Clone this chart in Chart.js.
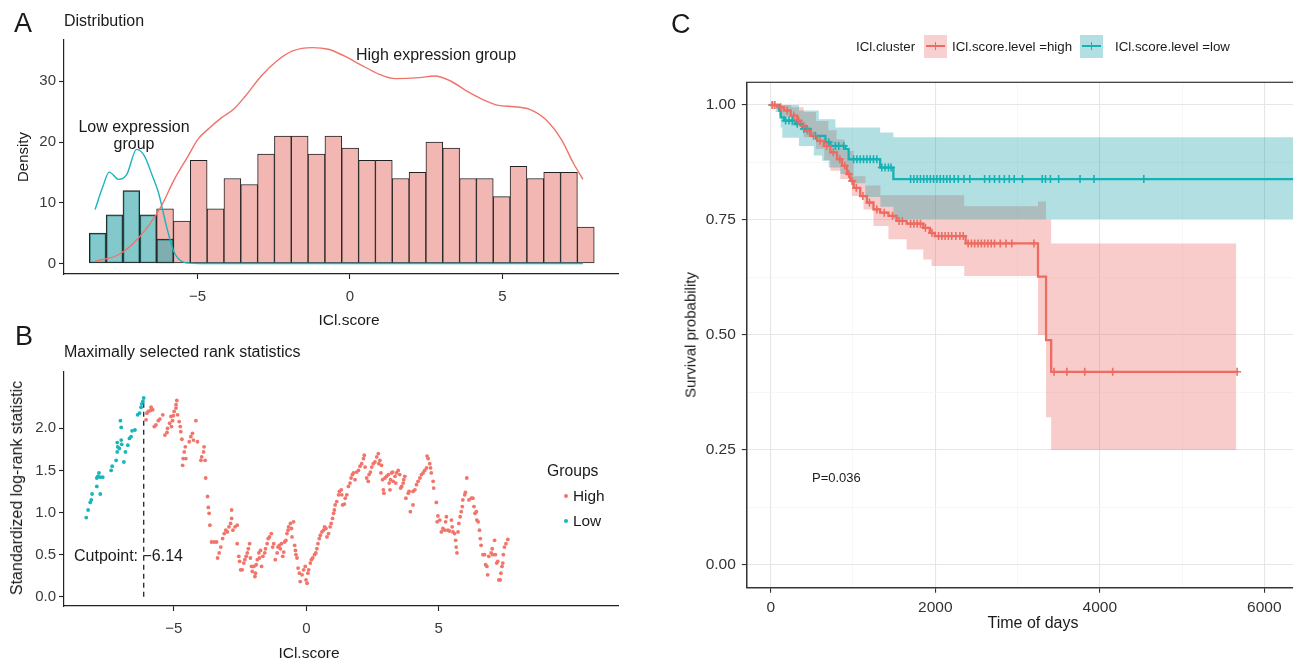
<!DOCTYPE html>
<html><head><meta charset="utf-8">
<script src="https://cdn.jsdelivr.net/npm/chart.js@4.4.1/dist/chart.umd.min.js"></script>
<style>
html,body{margin:0;padding:0;background:#fff;overflow:hidden;}
#root{position:relative;width:1293px;height:662px;overflow:hidden;font-family:"Liberation Sans",Arial,Helvetica,sans-serif;color:#1a1a1a;background:#fff;}
canvas{position:absolute;}
.t{position:absolute;white-space:nowrap;line-height:1;}
</style></head><body><div id="root">
<canvas id="cA" width="640" height="335" style="left:0;top:0"></canvas>
<canvas id="cB" width="640" height="327" style="left:0;top:335px"></canvas>
<canvas id="cC" width="640" height="662" style="left:660px;top:0"></canvas>
</div>
<script>
// ---------- Panel A: histogram + density ----------
const binCenters = [-8.274,-7.722,-7.170,-6.618,-6.066,-5.514,-4.962,-4.410,-3.858,-3.306,-2.754,-2.202,-1.650,-1.098,-0.546,0.006,0.558,1.110,1.662,2.214,2.766,3.318,3.870,4.422,4.974,5.526,6.078,6.630,7.182,7.734];
const lowCounts = [5,8,12,8,4];                       // bins 1-5
const highCounts = [9,7,17,9,14,13,18,21,21,18,21,19,17,17,14,15,20,19,14,14,11,16,14,15,15,6]; // bins 5-30
const densHighX = [-8.36,-7.58,-6.93,-6.22,-5.76,-5.31,-4.99,-4.60,-4.21,-3.82,-3.43,-2.91,-2.40,-1.88,-1.23,-0.71,-0.19,0.32,0.97,1.49,2.27,2.78,3.30,3.82,4.34,4.86,5.38,5.89,6.41,6.93,7.32,7.64];
const densHighY = [0.38,1.48,4.23,9.18,13.85,17.69,20.44,22.36,24.01,25.38,27.58,30.88,33.35,35.0,35.55,35.27,34.18,32.8,31.15,30.44,30.6,30.88,30.05,28.41,27.03,26.04,25.82,25.38,23.74,20.44,16.59,13.85];
const densLowX = [-8.36,-8.10,-7.90,-7.58,-7.32,-7.00,-6.74,-6.48,-6.28,-6.02,-5.76,-5.38,-4.73,7.64];
const densLowY = [8.9,12.75,15.05,13.85,14.67,18.79,17.69,14.4,11.65,6.15,1.76,0.11,0,0];
const aXTicks = [-5,0,5];
const aYTicks = [0,10,20,30];

// ---------- Panel B: maximally selected rank statistics ----------
const bLowX = [-8.31,-8.24,-8.16,-8.12,-8.09,-7.91,-7.91,-7.87,-7.83,-7.79,-7.78,-7.69,-7.37,-7.33,-7.18,-7.14,-7.12,-7.14,-7.06,-6.99,-6.97,-6.89,-6.83,-6.74,-6.68,-6.62,-6.58,-6.47,-6.99,-7.02,-6.37,-6.30,-6.24,-6.21,-6.17,-6.14];
const bLowY = [0.94,1.03,1.12,1.15,1.22,1.31,1.41,1.43,1.47,1.42,1.22,1.42,1.50,1.55,1.62,1.72,1.78,1.83,1.76,1.86,1.81,1.60,1.72,1.80,1.88,1.90,1.97,1.98,2.01,2.09,2.16,2.18,2.25,2.29,2.32,2.36];
const bHighX = [-6.05,-6.02,-5.97,-5.89,-5.86,-5.80,-5.74,-5.68,-5.59,-5.53,-5.42,-5.34,-5.26,-5.24,-5.16,-5.11,-5.09,-5.05,-5.02,-4.99,-4.92,-4.89,-4.92,-4.86,-4.80,-4.76,-4.74,-4.70,-4.67,-4.65,-4.61,-4.57,-4.55,-4.42,-4.36,-4.30,-4.26,-4.17,-4.11,-3.98,-3.95,-3.88,-3.86,-3.82,-3.80,-3.73,-3.70,-3.67,-3.64,-3.58,-3.48,-3.39,-3.35,-3.29,-3.23,-3.16,-3.10,-3.04,
 -2.98,-2.92,-2.86,-2.82,-2.82,-2.77,-2.69,-2.61,-2.61,-2.55,-2.52,-2.48,-2.42,-2.36,-2.32,-2.27,-2.23,-2.19,-2.14,-2.11,-2.07,-2.04,-1.98,-1.94,-1.92,-1.89,-1.85,-1.79,-1.77,-1.73,-1.69,-1.64,-1.57,-1.54,-1.48,-1.44,-1.39,-1.32,-1.27,-1.23,-1.17,-1.10,-1.07,-1.02,-0.98,-0.94,-0.89,-0.85,-0.82,-0.77,-0.73,-0.69,-0.67,-0.60,-0.56,-0.54,-0.48,-0.44,-0.41,-0.39,-0.35,-0.31,-0.26,-0.23,-0.16,-0.10,-0.04,-0.01,0.03,0.06,0.09,0.15,0.19,0.24,0.31,0.36,0.40,0.44,0.49,0.53,0.59,0.65,0.69,0.74,0.78,0.84,0.90,0.94,0.99,1.03,1.06,1.09,1.15,1.22,1.25,1.32,1.34,1.37,1.44,1.47,1.53,1.59,1.65,1.69,1.74,1.78,1.84,1.90,1.97,2.03,2.09,2.16,2.19,2.22,2.28,2.34,2.37,2.42,2.47,2.53,2.59,2.66,2.72,2.74,
 2.78,2.84,2.82,2.88,2.91,2.93,2.97,3.03,3.10,3.13,3.16,3.18,3.22,3.26,3.28,3.35,3.38,3.41,3.47,3.53,3.56,3.60,3.66,3.68,3.72,3.76,3.85,3.88,3.93,4.03,4.03,4.10,4.16,4.22,4.29,4.35,4.41,4.47,4.54,4.56,4.60,4.66,4.69,4.72,4.79,4.81,4.91,4.97,4.94,5.04,5.10,5.16,5.23,5.26,5.29,5.35,5.41,5.48,5.51,5.54,5.60,5.64,5.66,5.69,5.73,5.76,5.81,5.85,5.89,5.91,5.98,6.01,6.06,6.14,6.23,6.29,6.33,6.37,6.42,6.44,6.49,6.54,6.57,6.60,6.67,6.73,6.77,6.82,6.85,6.89,6.98,7.02,7.04,7.11,7.14,7.19,7.23,7.27,7.32,7.35,7.39,7.42,7.44,7.48,7.54,7.61];
const bHighY = [2.10,2.18,2.20,2.21,2.25,2.22,2.02,2.04,2.09,2.11,2.16,1.92,1.95,2.00,2.06,2.14,2.02,2.09,2.15,2.20,2.28,2.33,2.24,2.16,2.08,2.02,1.96,1.87,1.56,1.64,1.72,1.78,1.64,1.84,1.90,1.94,1.86,2.09,1.84,1.62,1.66,1.72,1.78,1.62,1.41,1.19,1.06,0.99,0.85,0.65,0.65,0.65,0.46,0.52,0.59,0.69,0.75,0.79,
 0.77,0.83,0.87,0.93,1.03,0.79,0.83,0.85,0.63,0.48,0.42,0.32,0.32,0.40,0.44,0.48,0.52,0.57,0.63,0.46,0.36,0.30,0.36,0.24,0.28,0.38,0.44,0.52,0.46,0.55,0.36,0.48,0.52,0.57,0.63,0.69,0.71,0.75,0.59,0.63,0.44,0.52,0.59,0.61,0.57,0.63,0.48,0.53,0.65,0.67,0.75,0.79,0.83,0.87,0.81,0.71,0.89,0.61,0.55,0.50,0.46,0.34,0.28,0.18,0.26,0.32,0.36,0.20,0.16,0.28,0.32,0.40,0.44,0.46,0.50,0.52,0.57,0.63,0.69,0.73,0.77,0.79,0.83,0.81,0.71,0.75,0.83,0.87,0.93,0.99,1.03,1.09,1.13,1.21,1.25,1.27,1.21,1.09,1.10,1.17,1.21,1.31,1.35,1.41,1.45,1.47,1.39,1.48,1.50,1.55,1.58,1.64,1.68,1.54,1.41,1.37,1.45,1.48,1.54,1.58,1.60,1.66,1.70,1.58,
 1.62,1.56,1.47,1.39,1.27,1.23,1.41,1.43,1.45,1.35,1.27,1.39,1.47,1.48,1.37,1.43,1.35,1.47,1.50,1.45,1.29,1.31,1.35,1.39,1.43,1.17,1.23,1.25,1.01,1.09,1.25,1.27,1.33,1.37,1.41,1.45,1.47,1.50,1.53,1.67,1.64,1.58,1.53,1.47,1.37,1.29,1.12,0.96,0.89,0.91,0.77,0.81,0.79,0.89,0.95,0.79,0.78,0.91,0.83,0.77,0.75,0.67,0.59,0.52,0.77,0.87,0.95,1.01,1.07,1.15,1.21,1.24,1.41,1.15,1.17,1.17,1.07,0.99,1.01,0.91,0.89,0.79,0.69,0.61,0.50,0.50,0.38,0.36,0.26,0.48,0.52,0.57,0.50,0.67,0.50,0.40,0.42,0.20,0.20,0.28,0.36,0.40,0.50,0.59,0.63,0.68];
const cutpoint = -6.14;
const cutpointTop = 2.36;
const bXTicks = [-5,0,5];
const bYTicks = [0,0.5,1,1.5,2];

// ---------- Panel C: Kaplan-Meier ----------
const hiTime = [0,81,161,242,322,363,423,484,564,645,725,806,866,927,967,1008,1088,1169,1249,1330,1431,1531,1652,1854,1934,1995,2370,3249,3347,3409,5670];
const hiSurv = [1.0,0.995,0.988,0.977,0.966,0.955,0.944,0.933,0.922,0.911,0.897,0.882,0.868,0.850,0.835,0.820,0.802,0.788,0.773,0.766,0.759,0.748,0.742,0.733,0.722,0.715,0.699,0.627,0.489,0.420,0.420];
const loTime = [0,101,121,161,302,383,484,665,725,907,947,1330,1491,6366];
const loSurv = [1.0,0.988,0.973,0.966,0.959,0.948,0.933,0.919,0.911,0.904,0.882,0.864,0.839,0.839];
const hiCensT = [20,50,120,200,280,340,400,450,520,600,680,760,840,900,950,990,1040,1120,1200,1290,1380,1480,1560,1600,1700,1740,1780,1820,1880,1960,2040,2080,2120,2160,2200,2250,2300,2340,2400,2440,2480,2520,2560,2600,2640,2680,2720,2790,2860,2930,3200,3444,3600,3817,4157,5670];
const hiCensS = [1.0,1.0,0.995,0.988,0.977,0.966,0.955,0.944,0.933,0.922,0.911,0.897,0.882,0.868,0.850,0.835,0.820,0.802,0.788,0.773,0.766,0.759,0.748,0.748,0.742,0.742,0.742,0.742,0.733,0.722,0.715,0.715,0.715,0.715,0.715,0.715,0.715,0.715,0.699,0.699,0.699,0.699,0.699,0.699,0.699,0.699,0.699,0.699,0.699,0.699,0.699,0.420,0.420,0.420,0.420,0.420];
const loCensT = [20,181,222,262,322,403,443,544,705,786,826,887,1008,1048,1088,1128,1169,1209,1249,1290,1350,1390,1431,1463,1700,1740,1780,1820,1860,1900,1940,1980,2020,2060,2100,2140,2180,2230,2280,2350,2420,2600,2660,2720,2780,2840,2900,2960,3060,3300,3340,3400,3500,3760,3930,4535];
const loCensS = [1.0,0.966,0.966,0.966,0.959,0.948,0.948,0.933,0.919,0.911,0.911,0.911,0.882,0.882,0.882,0.882,0.882,0.882,0.882,0.882,0.864,0.864,0.864,0.864,0.839,0.839,0.839,0.839,0.839,0.839,0.839,0.839,0.839,0.839,0.839,0.839,0.839,0.839,0.839,0.839,0.839,0.839,0.839,0.839,0.839,0.839,0.839,0.839,0.839,0.839,0.839,0.839,0.839,0.839,0.839,0.839];
const hiUpT = [0,250,400,550,700,800,900,1008,1150,1333,2352,3249,3347,3409,5660];
const hiUp  = [1.0,0.995,0.985,0.965,0.945,0.925,0.90,0.845,0.825,0.804,0.78,0.79,0.751,0.699,0.699];
const hiLoT = [0,100,250,400,550,650,725,846,987,1128,1249,1431,1652,1854,1955,2352,3249,3347,3409,5660];
const hiLo  = [1.0,0.975,0.955,0.93,0.905,0.88,0.857,0.839,0.802,0.773,0.737,0.708,0.686,0.664,0.650,0.628,0.50,0.321,0.25,0.25];
const loUpT = [0,343,584,786,1330,1491,6366];
const loUp  = [1.0,0.988,0.969,0.951,0.940,0.930,0.930];
const loLoT = [0,60,121,141,343,524,625,705,846,967,1150,1333,1491,6366];
const loLo  = [1.0,0.985,0.951,0.929,0.911,0.89,0.879,0.864,0.85,0.83,0.80,0.779,0.752,0.752];
const cXTicks = [0,1000,2000,3000,4000,5000,6000];
const cYTicks = [0,0.125,0.25,0.375,0.5,0.625,0.75,0.875,1.0];

// ---------- helpers ----------
const FONT = '"Liberation Sans", Arial, Helvetica, sans-serif';
Chart.defaults.font.family = FONT;
const root = document.getElementById('root');
const pts = (xs, ys) => xs.map((x, i) => ({x, y: ys[i]}));
const fmtMinus = v => (v < 0 ? '\u2212' + Math.abs(v) : String(v));
function lbl(text, x, y, size, o = {}) {
  const d = document.createElement('div');
  d.className = 't'; d.textContent = text;
  d.style.left = x + 'px'; d.style.top = y + 'px'; d.style.fontSize = size + 'px';
  const ax = o.anchor || 'l';
  const tx = ax === 'l' ? '0' : (ax === 'c' ? '-50%' : '-100%');
  d.style.transform = 'translate(' + tx + ',-50%)' + (o.rot ? ' rotate(' + o.rot + 'deg)' : '');
  if (o.color) d.style.color = o.color;
  root.appendChild(d);
}
function box(x, y, w, h, bg, radius) {
  const d = document.createElement('div');
  d.style.cssText = 'position:absolute;left:' + x + 'px;top:' + y + 'px;width:' + w + 'px;height:' + h + 'px;background:' + bg + ';' + (radius ? 'border-radius:50%;' : '');
  root.appendChild(d);
}
function classicAxis(o) {
  return {
    type: 'linear', min: o.min, max: o.max, offset: false,
    afterBuildTicks: s => { s.ticks = o.ticks.map(v => ({value: v})); },
    afterFit: s => { if (o.w !== undefined) s.width = o.w; if (o.h !== undefined) s.height = o.h; },
    ticks: {callback: o.fmt, font: {size: 15}, color: '#3a3a3a', padding: o.pad, autoSkip: false, maxRotation: 0, minRotation: 0, includeBounds: false},
    grid: {display: true, offset: false, drawOnChartArea: false, drawTicks: true, tickLength: 5, tickWidth: 1.1, tickColor: '#222'},
    border: {display: true, color: '#222', width: 1.2}
  };
}
const noPlug = {legend: {display: false}, tooltip: {enabled: false}};

// ---------- Chart A ----------
new Chart(document.getElementById('cA'), {
  data: {
    datasets: [
      {type: 'line', data: pts(densHighX, densHighY), borderColor: '#F0736A', borderWidth: 1.4, pointRadius: 0, cubicInterpolationMode: 'monotone', fill: false, order: 0},
      {type: 'line', data: pts(densLowX, densLowY), borderColor: '#1BB5B9', borderWidth: 1.4, pointRadius: 0, cubicInterpolationMode: 'monotone', fill: false, order: 0},
      {type: 'bar', data: pts(binCenters.slice(0, 5), lowCounts), backgroundColor: 'rgba(58,170,175,0.63)', borderColor: '#222', borderWidth: 1, borderSkipped: false, grouped: false, barPercentage: 1, categoryPercentage: 1, order: 1},
      {type: 'bar', data: pts(binCenters.slice(4), highCounts), backgroundColor: '#F2B6B3', borderColor: '#222', borderWidth: 1, borderSkipped: false, grouped: false, barPercentage: 1, categoryPercentage: 1, order: 2}
    ]
  },
  options: {
    responsive: false, animation: false, devicePixelRatio: 1,
    layout: {padding: {top: 40, right: 22, left: 0, bottom: 0}},
    plugins: noPlug,
    scales: {
      x: classicAxis({min: -9.38, max: 8.79, ticks: aXTicks, fmt: fmtMinus, pad: 9, h: 61}),
      y: classicAxis({min: -1.73, max: 36.8, ticks: aYTicks, fmt: v => String(v), pad: 3, w: 64})
    }
  }
});

// ---------- Chart B ----------
new Chart(document.getElementById('cB'), {
  type: 'scatter',
  data: {
    datasets: [
      {type: 'line', data: [{x: cutpoint, y: 0}, {x: cutpoint, y: cutpointTop}], borderColor: '#222', borderWidth: 1.3, borderDash: [5, 4], pointRadius: 0, fill: false, order: 2},
      {data: pts(bHighX, bHighY), backgroundColor: '#F2746A', borderWidth: 0, pointRadius: 1.9, order: 0},
      {data: pts(bLowX, bLowY), backgroundColor: '#16B6BA', borderWidth: 0, pointRadius: 1.9, order: 0}
    ]
  },
  options: {
    responsive: false, animation: false, devicePixelRatio: 1,
    layout: {padding: {top: 36.7, right: 22, left: 0, bottom: 0}},
    plugins: noPlug,
    scales: {
      x: classicAxis({min: -9.15, max: 11.77, ticks: bXTicks, fmt: fmtMinus, pad: 9, h: 56}),
      y: classicAxis({min: -0.11, max: 2.672, ticks: bYTicks, fmt: v => v.toFixed(1), pad: 3, w: 64})
    }
  }
});

// ---------- Chart C ----------
const isMajX = v => v % 2000 === 0;
const isMajY = v => Math.abs(v * 4 - Math.round(v * 4)) < 1e-6;
const HI_LINE = '#EE6B61', LO_LINE = '#15B2B5';
const HI_BAND = 'rgba(232,100,95,0.33)', LO_BAND = 'rgba(0,150,158,0.30)';
// KM steps: value holds until the next event time (horizontal then vertical)
const stepDs = (xs, ys, extra) => Object.assign({type: 'line', data: pts(xs, ys), stepped: 'before', pointRadius: 0, tension: 0}, extra);
const panelBorder = {
  id: 'panelBorder',
  afterDatasetsDraw(chart) {
    const {ctx, chartArea: a} = chart;
    ctx.save(); ctx.strokeStyle = '#333'; ctx.lineWidth = 1.2;
    ctx.strokeRect(a.left, a.top, a.right - a.left, a.bottom - a.top);
    ctx.restore();
  }
};
new Chart(document.getElementById('cC'), {
  data: {
    datasets: [
      stepDs(hiUpT, hiUp, {fill: '+1', backgroundColor: HI_BAND, borderWidth: 0, borderColor: 'rgba(0,0,0,0)', order: 4}),
      stepDs(hiLoT, hiLo, {fill: false, borderWidth: 0, borderColor: 'rgba(0,0,0,0)', order: 4}),
      stepDs(loUpT, loUp, {fill: '+1', backgroundColor: LO_BAND, borderWidth: 0, borderColor: 'rgba(0,0,0,0)', order: 3}),
      stepDs(loLoT, loLo, {fill: false, borderWidth: 0, borderColor: 'rgba(0,0,0,0)', order: 3}),
      stepDs(hiTime, hiSurv, {fill: false, borderColor: HI_LINE, borderWidth: 2.3, order: 1}),
      stepDs(loTime, loSurv, {fill: false, borderColor: LO_LINE, borderWidth: 2.3, order: 1}),
      {type: 'scatter', data: pts(hiCensT, hiCensS), pointStyle: 'cross', pointRadius: 4, borderColor: HI_LINE, borderWidth: 1.6, order: 0},
      {type: 'scatter', data: pts(loCensT, loCensS), pointStyle: 'cross', pointRadius: 4, borderColor: LO_LINE, borderWidth: 1.6, order: 0}
    ]
  },
  options: {
    responsive: false, animation: false, devicePixelRatio: 1,
    layout: {padding: {top: 82.3, right: 0, left: 0, bottom: 0}},
    plugins: noPlug,
    scales: {
      x: {
        type: 'linear', min: -291, max: 6366, offset: false,
        afterBuildTicks: s => { s.ticks = cXTicks.map(v => ({value: v})); },
        afterFit: s => { s.height = 74.3; },
        ticks: {callback: v => (isMajX(v) ? String(v) : ''), font: {size: 15.5}, color: '#333', padding: 6, autoSkip: false, maxRotation: 0, minRotation: 0},
        grid: {drawOnChartArea: true, drawTicks: true, tickLength: 5, tickWidth: 1.1, offset: false,
          color: c => (c.tick && isMajX(c.tick.value) ? '#E6E6E6' : '#F3F3F3'),
          lineWidth: c => (c.tick && isMajX(c.tick.value) ? 1.1 : 0.7),
          tickColor: c => (c.tick && isMajX(c.tick.value) ? '#333' : 'rgba(0,0,0,0)')},
        border: {display: true, color: '#333', width: 1.2}
      },
      y: {
        type: 'linear', min: -0.0493, max: 1.0493,
        afterBuildTicks: s => { s.ticks = cYTicks.map(v => ({value: v})); },
        afterFit: s => { s.width = 86.8; },
        ticks: {callback: v => (isMajY(v) ? v.toFixed(2) : ''), font: {size: 15.5}, color: '#333', padding: 6, autoSkip: false},
        grid: {drawOnChartArea: true, drawTicks: true, tickLength: 5, tickWidth: 1.1,
          color: c => (c.tick && isMajY(c.tick.value) ? '#E6E6E6' : '#F3F3F3'),
          lineWidth: c => (c.tick && isMajY(c.tick.value) ? 1.1 : 0.7),
          tickColor: c => (c.tick && isMajY(c.tick.value) ? '#333' : 'rgba(0,0,0,0)')},
        border: {display: true, color: '#333', width: 1.2}
      }
    }
  },
  plugins: [panelBorder]
});

// ---------- text overlays ----------
lbl('A', 14, 23, 27);
lbl('Distribution', 64, 21, 16);
lbl('High expression group', 436, 55, 16, {anchor: 'c'});
lbl('Low expression', 134, 127, 16, {anchor: 'c'});
lbl('group', 134, 144, 16, {anchor: 'c'});
lbl('Density', 22, 157, 15, {anchor: 'c', rot: -90});
lbl('ICl.score', 349, 320, 15.5, {anchor: 'c'});

lbl('B', 15, 336, 27);
lbl('Maximally selected rank statistics', 64, 352, 16);
lbl('Standardized log-rank statistic', 16.5, 488, 16, {anchor: 'c', rot: -90});
lbl('Cutpoint: \u22126.14', 74, 556, 16);
lbl('Groups', 547, 471, 15.7);
box(564, 494, 4, 4, '#F2746A', true);
lbl('High', 573, 496, 15.4);
box(564, 519, 4, 4, '#16B6BA', true);
lbl('Low', 573, 521, 15.4);
lbl('ICl.score', 309, 653, 15.5, {anchor: 'c'});

lbl('C', 671, 24, 27);
lbl('ICl.cluster', 856, 47, 13.3);
box(924, 34.5, 23, 23, 'rgba(232,100,95,0.30)');
box(926, 45, 19, 2.2, HI_LINE);
box(934.8, 42, 1.6, 8, HI_LINE);
lbl('ICl.score.level =high', 952, 47, 13.3);
box(1080, 34.5, 23, 23, 'rgba(0,150,158,0.30)');
box(1082, 45, 19, 2.2, LO_LINE);
box(1090.8, 42, 1.6, 8, LO_LINE);
lbl('ICl.score.level =low', 1115, 47, 13.3);
lbl('Survival probability', 690, 335, 15, {anchor: 'c', rot: -90});
lbl('Time of days', 1033, 623, 16, {anchor: 'c'});
lbl('P=0.036', 812, 477, 13);
</script>
</body></html>
